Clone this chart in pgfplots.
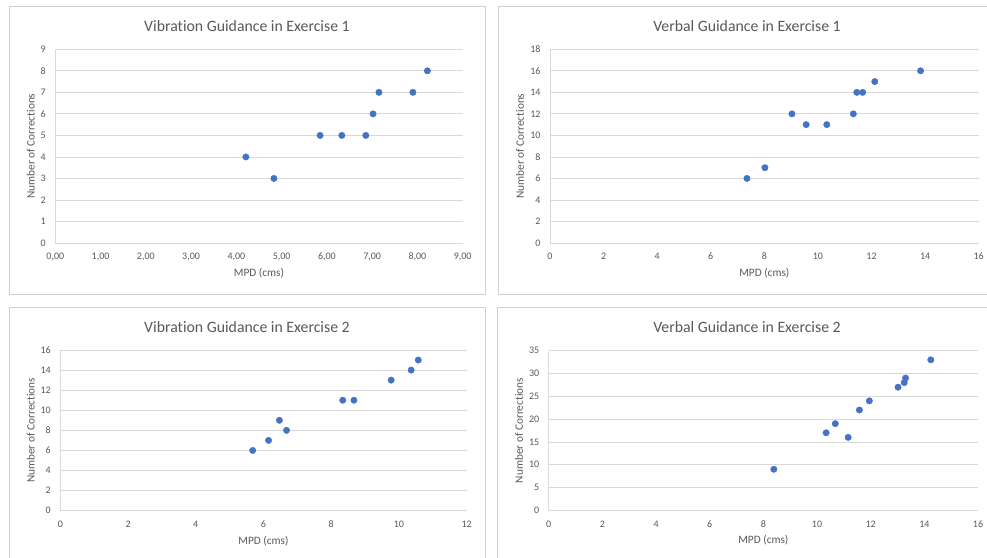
\documentclass[border=0pt]{standalone}
\usepackage{fontspec}
\setmainfont{Carlito}[Ligatures=NoCommon]
\usepackage{pgfplots}
\pgfplotsset{compat=1.18}
\definecolor{txt}{HTML}{595959}
\definecolor{grd}{HTML}{D9D9D9}
\definecolor{brd}{HTML}{D0D0D0}
\definecolor{pt}{HTML}{4472C4}
\pgfplotsset{panel/.style={
  scale only axis,
  axis x line*=bottom, axis y line*=left,
  axis line style={grd, line width=0.8pt},
  ymajorgrids, grid style={grd, line width=0.8pt},
  major tick length=0pt, tick style={draw=none},
  tick label style={font=\fontsize{10}{12}\selectfont, text=txt},
  /pgf/number format/assume math mode=true,
  xlabel={MPD (cms)}, ylabel={Number of Corrections},
  label style={font=\fontsize{11.3}{13}\selectfont, text=txt},
  xlabel style={at={(axis description cs:0.5,0)}, anchor=center, yshift=-30pt},
  xticklabel style={anchor=center, yshift=-13.5pt},
  yticklabel style={anchor=east, xshift=-6pt},
  clip=false,
}}
\pgfplotsset{dots/.style={only marks, mark=*, mark size=3.2pt, mark options={draw=pt, fill=pt}}}
\begin{document}
\begin{tikzpicture}[x=1pt,y=1pt]
\useasboundingbox (0,0) rectangle (987,557);
\fill[white] (0,0) rectangle (987,557);
\draw[brd, line width=0.9pt] (9,263) rectangle (485,551);
\draw[brd, line width=0.9pt] (987,263) -- (498,263) -- (498,551) -- (987,551);
\draw[brd, line width=0.9pt] (9,-2) -- (9,250) -- (485,250) -- (485,-2);
\draw[brd, line width=0.9pt] (497,-2) -- (497,250) -- (989,250);

% Panel 1
\begin{axis}[panel, at={(55.3pt,314pt)}, anchor=south west, width=407.4pt, height=193.7pt,
  xmin=0, xmax=9, ymin=0, ymax=9, xtick={0,1,...,9}, ytick={0,1,...,9},
  xticklabel style={/pgf/number format/.cd, fixed, fixed zerofill, precision=2, use comma},
  ylabel style={at={(axis description cs:0,0.5)}, anchor=center, yshift=24.6pt}]
\addplot[dots] coordinates {(4.21,4) (4.83,3) (5.85,5) (6.33,5) (6.86,5) (7.02,6) (7.15,7) (7.90,7) (8.22,8)};
\end{axis}
\node[text=txt, font=\fontsize{15.8}{18}\selectfont] at (247,531) {Vibration Guidance in Exercise 1};

% Panel 2
\begin{axis}[panel, at={(550pt,314pt)}, anchor=south west, width=428.7pt, height=193.7pt,
  xmin=0, xmax=16, ymin=0, ymax=18, xtick={0,2,...,16}, ytick={0,2,...,18},
  ylabel style={at={(axis description cs:0,0.5)}, anchor=center, yshift=30pt}]
\addplot[dots] coordinates {(7.35,6) (8.02,7) (9.03,12) (9.56,11) (10.33,11) (11.32,12) (11.45,14) (11.67,14) (12.12,15) (13.83,16)};
\end{axis}
\node[text=txt, font=\fontsize{15.8}{18}\selectfont] at (747,531) {Verbal Guidance in Exercise 1};

% Panel 3
\begin{axis}[panel, at={(60.3pt,46.3pt)}, anchor=south west, width=406.4pt, height=160.7pt,
  xmin=0, xmax=12, ymin=0, ymax=16, xtick={0,2,...,12}, ytick={0,2,...,16},
  ylabel style={at={(axis description cs:0,0.5)}, anchor=center, yshift=29.6pt}]
\addplot[dots] coordinates {(5.68,6) (6.15,7) (6.47,9) (6.68,8) (8.34,11) (8.67,11) (9.77,13) (10.36,14) (10.57,15)};
\end{axis}
\node[text=txt, font=\fontsize{15.8}{18}\selectfont] at (247,230.3) {Vibration Guidance in Exercise 2};

% Panel 4
\begin{axis}[panel, at={(548.7pt,46.7pt)}, anchor=south west, width=429.3pt, height=159.6pt,
  xmin=0, xmax=16, ymin=0, ymax=35, xtick={0,2,...,16}, ytick={0,5,...,35},
  ylabel style={at={(axis description cs:0,0.5)}, anchor=center, yshift=29.7pt}]
\addplot[dots] coordinates {(8.39,9) (10.34,17) (10.68,19) (11.16,16) (11.58,22) (11.95,24) (13.02,27) (13.25,28) (13.30,29) (14.24,33)};
\end{axis}
\node[text=txt, font=\fontsize{15.8}{18}\selectfont] at (747,230.3) {Verbal Guidance in Exercise 2};
\end{tikzpicture}
\end{document}
